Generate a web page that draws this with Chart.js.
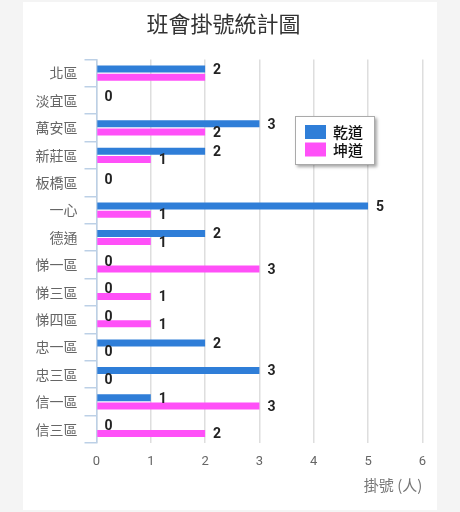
<!DOCTYPE html>
<html>
<head>
<meta charset="utf-8">
<script src="https://cdn.jsdelivr.net/npm/chart.js@4.4.0/dist/chart.umd.min.js"></script>
<style>
    body {
        margin: 0;
        background: #f4f4f4;
    }
    #card {
        position: absolute;
        left: 23px;
        top: 2px;
        width: 414px;
        height: 508px;
        background: #fff;
    }
</style>
</head>
<body>
<div id="card"><canvas id="signupChart"></canvas></div>
<script>
const categories = ['北區', '淡宜區', '萬安區', '新莊區', '板橋區', '一心', '德通', '悌一區', '悌三區', '悌四區', '忠一區', '忠三區', '信一區', '信三區'];
const qianDao = [2, 0, 3, 2, 0, 5, 2, 0, 0, 0, 2, 3, 1, 0];
const kunDao = [2, 0, 2, 1, 0, 1, 1, 3, 1, 1, 0, 0, 3, 2];
const seriesNames = ['乾道', '坤道'];
const xTicks = [0, 1, 2, 3, 4, 5, 6];

const cjkFont = '"Noto Sans CJK TC", "Noto Sans", sans-serif';

// Value labels at the end of each bar, skipping ones that would overlap
const valueLabels = {
    id: 'valueLabels',
    afterDatasetsDraw(chart) {
        const ctx = chart.ctx;
        const placed = [];
        ctx.save();
        ctx.font = 'bold 14px Roboto, sans-serif';
        ctx.fillStyle = '#222';
        ctx.textAlign = 'left';
        ctx.textBaseline = 'middle';
        chart.data.datasets.forEach((ds, di) => {
            chart.getDatasetMeta(di).data.forEach((bar, i) => {
                const text = String(ds.data[i]);
                const x = bar.x + 8;
                const y = bar.y + 1.5;
                const w = ctx.measureText(text).width;
                const box = { l: x, r: x + w, t: y - 6, b: y + 6 };
                const hit = placed.some(p => box.l < p.r && box.r > p.l && box.t < p.b && box.b > p.t);
                if (hit) return;
                placed.push(box);
                ctx.fillText(text, x, y);
            });
        });
        ctx.restore();
    }
};

// Boxed legend inside the plot, like the original
const boxLegend = {
    id: 'boxLegend',
    afterDraw(chart) {
        const ctx = chart.ctx;
        const bx = 272, by = 114, bw = 80, bh = 49;
        ctx.save();
        ctx.shadowColor = 'rgba(0,0,0,0.35)';
        ctx.shadowOffsetX = 2;
        ctx.shadowOffsetY = 2;
        ctx.shadowBlur = 3;
        ctx.fillStyle = '#fff';
        ctx.fillRect(bx, by, bw, bh);
        ctx.shadowColor = 'transparent';
        ctx.strokeStyle = '#aaa';
        ctx.lineWidth = 1;
        ctx.strokeRect(bx + 0.5, by + 0.5, bw - 1, bh - 1);
        ctx.font = '500 15px ' + cjkFont;
        ctx.textBaseline = 'middle';
        chart.data.datasets.forEach((ds, di) => {
            const sy = by + 9 + di * 17.5;
            ctx.fillStyle = ds.backgroundColor;
            ctx.fillRect(bx + 10, sy, 21, 14);
            ctx.fillStyle = '#111';
            ctx.fillText(ds.label, bx + 38, sy + 7.5);
        });
        ctx.restore();
    }
};

const ctx = document.getElementById('signupChart').getContext('2d');
new Chart(ctx, {
    type: 'bar',
    data: {
        labels: categories,
        datasets: [{
            label: seriesNames[0],
            data: qianDao,
            backgroundColor: '#2f7ed8',
            categoryPercentage: 0.6,
            barPercentage: 0.85
        }, {
            label: seriesNames[1],
            data: kunDao,
            backgroundColor: '#ff50f8',
            categoryPercentage: 0.6,
            barPercentage: 0.85
        }]
    },
    options: {
        indexAxis: 'y',
        responsive: true,
        maintainAspectRatio: false,
        animation: false,
        layout: {
            padding: { left: 0, right: 13, top: 0, bottom: 0 }
        },
        scales: {
            x: {
                min: 0,
                max: 6,
                afterBuildTicks: scale => {
                    scale.ticks = xTicks.map(v => ({ value: v }));
                },
                afterFit: scale => {
                    scale.height = 67;
                },
                grid: {
                    color: '#dedede',
                    lineWidth: 1.5,
                    drawTicks: false
                },
                border: { display: false },
                ticks: {
                    color: '#666',
                    padding: 11,
                    font: { family: 'Roboto, sans-serif', size: 13 }
                },
                title: {
                    display: true,
                    text: '掛號 (人)',
                    align: 'end',
                    color: '#777',
                    padding: { top: 0, bottom: 16 },
                    font: { family: cjkFont, size: 15 }
                }
            },
            y: {
                afterFit: scale => {
                    scale.width = 73.5;
                },
                grid: {
                    offset: true,
                    drawOnChartArea: false,
                    drawTicks: true,
                    tickLength: 12,
                    color: '#bcd0e6',
                    lineWidth: 1.5
                },
                border: { color: '#bcd0e6', width: 1.5 },
                ticks: {
                    color: '#666',
                    padding: 7,
                    font: { family: cjkFont, size: 14 }
                }
            }
        },
        plugins: {
            legend: { display: false },
            tooltip: { enabled: false },
            title: {
                display: true,
                text: '班會掛號統計圖',
                color: '#333',
                padding: { top: 8, bottom: 23 },
                font: { family: cjkFont, size: 22, weight: 'normal' }
            }
        }
    },
    plugins: [valueLabels, boxLegend]
});
</script>
</body>
</html>
